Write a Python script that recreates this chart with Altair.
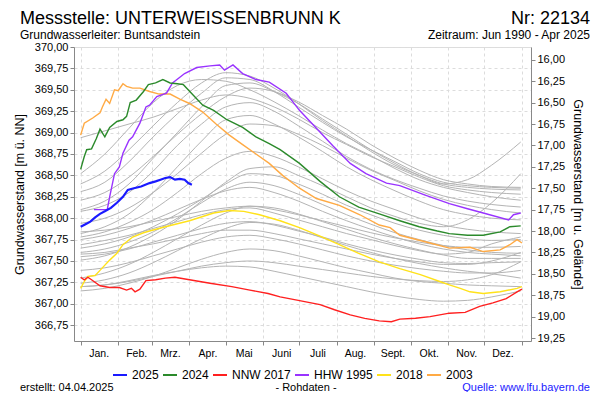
import altair as alt
import pandas as pd

# ---------------- data ----------------
GROUND = 385.85          # ground level (m ü. NN) linking both y axes
Y_DOMAIN = [366.565, 370.0]
X_DOMAIN = [-5.5, 372.5]

month_names = ['Jan.', 'Feb.', 'Mrz.', 'Apr.', 'Mai', 'Juni', 'Juli', 'Aug.', 'Sept.', 'Okt.', 'Nov.', 'Dez.', '']
month_starts = [0, 31, 59, 90, 120, 151, 181, 212, 243, 273, 304, 334, 365]
left_ticks = [366.75 + 0.25 * i for i in range(14)]
right_ticks = [16.0 + 0.25 * i for i in range(14)]

series_order = ['2025', '2024', 'NNW 2017', 'HHW 1995', '2018', '2003']
series_colors = ['#1a1aff', '#2b8a2b', '#ff2020', '#9933ff', '#ffe21a', '#ffaa44']

# coloured years: day of year / level (m ü. NN)
d2025 = [0, 4, 8, 12, 16, 20, 25, 30, 35, 39, 44, 50, 57, 62, 66, 70, 74, 78, 82, 86, 89, 92]
v2025 = [367.90, 367.93, 367.96, 368.01, 368.05, 368.08, 368.12, 368.18, 368.25, 368.33, 368.35, 368.37,
         368.41, 368.43, 368.45, 368.47, 368.48, 368.45, 368.46, 368.45, 368.41, 368.39]

d2024 = [0, 3, 5, 9, 13, 16, 20, 24, 30, 35, 38, 41, 46, 52, 56, 62, 68, 74, 80, 85, 93, 101, 110, 121,
         134, 145, 156, 165, 181, 198, 214, 230, 247, 264, 280, 295, 305, 320, 333, 347, 355, 364]
v2024 = [368.57, 368.72, 368.80, 368.81, 368.93, 369.04, 368.95, 369.06, 369.13, 369.15, 369.19, 369.35,
         369.38, 369.48, 369.56, 369.58, 369.62, 369.58, 369.57, 369.56, 369.44, 369.32, 369.26, 369.15,
         369.06, 368.95, 368.87, 368.80, 368.64, 368.43, 368.25, 368.13, 368.05, 367.97, 367.90, 367.85,
         367.82, 367.80, 367.80, 367.84, 367.90, 367.91]

d2017 = [0, 3, 6, 9, 16, 24, 32, 38, 42, 45, 49, 54, 62, 70, 78, 90, 107, 125, 140, 155, 165, 180, 198,
         210, 223, 235, 247, 257, 264, 277, 289, 305, 318, 330, 341, 352, 361, 365]
v2017 = [367.31, 367.28, 367.31, 367.28, 367.21, 367.19, 367.19, 367.16, 367.18, 367.14, 367.17, 367.27,
         367.28, 367.30, 367.31, 367.28, 367.24, 367.20, 367.16, 367.12, 367.08, 367.04, 366.99, 366.93,
         366.87, 366.83, 366.80, 366.79, 366.82, 366.83, 366.85, 366.89, 366.90, 366.97, 367.01, 367.06,
         367.14, 367.17]

d1995 = [11, 16, 22, 24, 28, 32, 35, 40, 43, 49, 54, 57, 63, 71, 76, 86, 96, 107, 115, 119, 126, 134,
         145, 156, 170, 181, 195, 209, 223, 236, 253, 264, 285, 305, 320, 333, 354, 358, 364]
v1995 = [368.10, 368.10, 368.10, 368.25, 368.52, 368.60, 368.76, 368.91, 368.95, 369.11, 369.30, 369.32,
         369.42, 369.46, 369.58, 369.69, 369.76, 369.78, 369.79, 369.73, 369.79, 369.69, 369.62, 369.59,
         369.46, 369.26, 369.05, 368.84, 368.64, 368.52, 368.41, 368.38, 368.27, 368.17, 368.11, 368.06,
         367.98, 368.04, 368.06]

d2018 = [0, 3, 6, 12, 16, 24, 30, 35, 43, 52, 57, 70, 90, 110, 123, 135, 148, 165, 181, 198, 214, 230,
         247, 264, 281, 297, 305, 314, 322, 333, 347, 361, 365]
v2018 = [367.18, 367.26, 367.32, 367.33, 367.39, 367.51, 367.59, 367.69, 367.78, 367.83, 367.85, 367.90,
         367.97, 368.06, 368.09, 368.08, 368.04, 367.97, 367.89, 367.79, 367.69, 367.59, 367.49, 367.41,
         367.34, 367.26, 367.22, 367.18, 367.14, 367.12, 367.14, 367.18, 367.20]

d2003 = [0, 3, 10, 16, 18, 21, 24, 28, 31, 35, 38, 43, 49, 57, 65, 74, 82, 90, 101, 112, 123, 134, 145,
         156, 167, 181, 195, 214, 231, 247, 256, 264, 289, 305, 322, 333, 347, 355, 361, 365]
v2003 = [368.97, 369.11, 369.17, 369.23, 369.30, 369.39, 369.34, 369.50, 369.49, 369.57, 369.54, 369.52,
         369.52, 369.48, 369.45, 369.45, 369.39, 369.34, 369.24, 369.10, 368.97, 368.86, 368.75, 368.64,
         368.50, 368.35, 368.23, 368.15, 368.04, 367.92, 367.89, 367.80, 367.71, 367.65, 367.66, 367.61,
         367.63, 367.69, 367.75, 367.71]

# other years (grey), sampled every ~20 days
gray_days = [0, 20, 40, 60, 80, 100, 120, 140, 160, 180, 200, 220, 240, 260, 280, 300, 320, 340, 364]
g01 = [368.94, 369.02, 369.10, 369.18, 369.28, 369.38, 369.44, 369.40, 369.30, 369.16, 369.00, 368.86, 368.72, 368.60, 368.48, 368.38, 368.33, 368.30, 368.28]
g02 = [368.31, 368.42, 368.66, 368.95, 369.22, 369.46, 369.64, 369.62, 369.48, 369.30, 369.12, 368.95, 368.80, 368.66, 368.52, 368.42, 368.38, 368.36, 368.35]
g03 = [368.10, 368.20, 368.40, 368.70, 369.00, 369.30, 369.55, 369.58, 369.48, 369.34, 369.16, 368.98, 368.80, 368.64, 368.50, 368.40, 368.45, 368.62, 368.89]
g04 = [368.08, 368.15, 368.30, 368.55, 368.85, 369.10, 369.30, 369.35, 369.25, 369.08, 368.90, 368.72, 368.57, 368.45, 368.35, 368.26, 368.20, 368.16, 368.13]
g05 = [367.82, 367.90, 368.05, 368.30, 368.60, 368.90, 369.15, 369.20, 369.10, 368.95, 368.78, 368.60, 368.45, 368.32, 368.20, 368.10, 368.04, 368.00, 367.98]
g06 = [367.78, 367.84, 367.95, 368.10, 368.30, 368.52, 368.70, 368.78, 368.72, 368.60, 368.46, 368.32, 368.20, 368.10, 368.00, 367.92, 367.87, 367.84, 367.82]
g07 = [367.75, 367.80, 367.88, 367.98, 368.10, 368.22, 368.32, 368.36, 368.30, 368.20, 368.08, 367.97, 367.87, 367.78, 367.70, 367.64, 367.60, 367.58, 367.56]
g08 = [367.69, 367.74, 367.80, 367.88, 367.96, 368.04, 368.10, 368.12, 368.06, 367.98, 367.90, 367.82, 367.75, 367.68, 367.62, 367.58, 367.60, 367.70, 367.78]
g09 = [367.65, 367.70, 367.78, 367.90, 368.05, 368.22, 368.40, 368.52, 368.50, 368.40, 368.28, 368.15, 368.04, 367.94, 367.86, 367.80, 367.76, 367.74, 367.75]
g10 = [367.55, 367.58, 367.64, 367.72, 367.80, 367.88, 367.94, 367.96, 367.92, 367.85, 367.78, 367.70, 367.63, 367.57, 367.52, 367.48, 367.47, 367.48, 367.49]
g11 = [367.51, 367.56, 367.66, 367.80, 367.98, 368.20, 368.42, 368.58, 368.60, 368.50, 368.38, 368.25, 368.12, 368.02, 367.94, 367.90, 367.98, 368.18, 368.52]
g12 = [367.39, 367.42, 367.48, 367.56, 367.64, 367.72, 367.78, 367.80, 367.76, 367.70, 367.63, 367.56, 367.50, 367.45, 367.41, 367.38, 367.36, 367.36, 367.39]
g13 = [367.24, 367.28, 367.36, 367.48, 367.62, 367.76, 367.88, 367.95, 367.93, 367.86, 367.77, 367.68, 367.60, 367.53, 367.47, 367.42, 367.38, 367.35, 367.30]
g14 = [367.15, 367.18, 367.24, 367.32, 367.42, 367.52, 367.60, 367.64, 367.62, 367.56, 367.49, 367.42, 367.36, 367.30, 367.26, 367.24, 367.22, 367.21, 367.20]
g15 = [368.52, 368.75, 369.05, 369.35, 369.55, 369.62, 369.60, 369.50, 369.36, 369.20, 369.03, 368.87, 368.73, 368.58, 368.45, 368.36, 368.30, 368.25, 368.21]
g16 = [367.94, 368.00, 368.12, 368.30, 368.52, 368.76, 368.98, 369.10, 369.08, 368.98, 368.85, 368.70, 368.56, 368.44, 368.32, 368.22, 368.15, 368.10, 368.06]
g17 = [367.84, 367.86, 367.90, 367.96, 368.02, 368.08, 368.12, 368.14, 368.10, 368.04, 367.97, 367.90, 367.83, 367.77, 367.72, 367.68, 367.66, 367.66, 367.67]
g18 = [367.60, 367.64, 367.72, 367.84, 368.00, 368.18, 368.34, 368.42, 368.38, 368.28, 368.16, 368.04, 367.93, 367.83, 367.75, 367.68, 367.63, 367.60, 367.59]
g19 = [367.30, 367.36, 367.46, 367.60, 367.76, 367.92, 368.06, 368.14, 368.12, 368.05, 367.96, 367.87, 367.78, 367.70, 367.63, 367.57, 367.53, 367.53, 367.53]
g20 = [367.20, 367.22, 367.26, 367.32, 367.38, 367.44, 367.48, 367.50, 367.48, 367.44, 367.40, 367.36, 367.32, 367.29, 367.27, 367.26, 367.28, 367.34, 367.49]
g21 = [368.21, 368.30, 368.48, 368.72, 368.98, 369.22, 369.42, 369.52, 369.48, 369.36, 369.20, 369.04, 368.86, 368.70, 368.56, 368.45, 368.40, 368.37, 368.36]
g22 = [368.40, 368.55, 368.80, 369.08, 369.35, 369.58, 369.70, 369.66, 369.52, 369.34, 369.14, 368.96, 368.78, 368.62, 368.50, 368.40, 368.36, 368.34, 368.33]
g23 = [367.20, 367.22, 367.27, 367.33, 367.38, 367.42, 367.44, 367.43, 367.38, 367.32, 367.26, 367.20, 367.14, 367.09, 367.05, 367.03, 367.04, 367.08, 367.15]
g24 = [367.58, 367.60, 367.65, 367.70, 367.76, 367.82, 367.86, 367.86, 367.82, 367.76, 367.70, 367.64, 367.58, 367.53, 367.49, 367.46, 367.46, 367.50, 367.60]

# ---------------- tables ----------------
gray_sets = [g01, g02, g03, g04, g05, g06, g07, g08, g09, g10, g11, g12,
             g13, g14, g15, g16, g17, g18, g19, g20, g21, g22, g23, g24]
gray_rows = []
for i, vals in enumerate(gray_sets):
    for d, v in zip(gray_days, vals):
        gray_rows.append({'line': 'g%02d' % i, 'day': d, 'level': v})
gray_df = pd.DataFrame(gray_rows)

col_rows = []
for name, ds, vs in [('2003', d2003, v2003), ('2018', d2018, v2018), ('HHW 1995', d1995, v1995),
                     ('NNW 2017', d2017, v2017), ('2024', d2024, v2024)]:
    for d, v in zip(ds, vs):
        col_rows.append({'series': name, 'day': d, 'level': v})
col_df = pd.DataFrame(col_rows)
blue_df = pd.DataFrame({'series': '2025', 'day': d2025, 'level': v2025})

depth_df = pd.DataFrame({'depth': [GROUND - Y_DOMAIN[1], GROUND - Y_DOMAIN[0]]})

# ---------------- chart ----------------
FONT = 'Liberation Sans'
num_expr = "replace(format(datum.value, '.2f'), '.', ',')"
month_expr = ("%s[indexof(%s, datum.value)]" % (str(month_names), str(month_starts)))

x_enc = alt.X('day:Q', scale=alt.Scale(domain=X_DOMAIN, nice=False, zero=False),
              axis=alt.Axis(values=month_starts, labelExpr=month_expr, title=None,
                            labelOffset=18, labelFlush=False, labelOverlap=False,
                            labelFontSize=10.5, labelPadding=3, tickSize=4,
                            grid=True, gridDash=[3, 3], gridColor='#dcdcdc',
                            domainColor='#888', tickColor='#888'))
y_scale = alt.Scale(domain=Y_DOMAIN, nice=False, zero=False)
y_enc = alt.Y('level:Q', scale=y_scale,
              axis=alt.Axis(values=left_ticks, labelExpr=num_expr,
                            title='Grundwasserstand [m ü. NN]', titleFontSize=12.5,
                            titleFontWeight='normal', titlePadding=8, labelFontSize=11,
                            tickSize=4, grid=True, gridDash=[3, 3], gridColor='#dcdcdc',
                            domainColor='#888', tickColor='#888'))

color_enc = alt.Color('series:N', scale=alt.Scale(domain=series_order, range=series_colors),
                      legend=alt.Legend(title=None, orient='none', direction='horizontal',
                                        legendX=38, legendY=320, symbolType='stroke',
                                        symbolSize=196, symbolStrokeWidth=2, labelFontSize=12,
                                        labelFont=FONT, columnPadding=0, labelOffset=4,
                                        gridAlign='none', padding=0))

gray = alt.Chart(gray_df).mark_line(color='#b4b4b4', strokeWidth=1, interpolate='monotone').encode(
    x=x_enc, y=y_enc, detail='line:N')
colored = alt.Chart(col_df).mark_line(strokeWidth=1.4).encode(
    x=x_enc, y=y_enc, color=color_enc, detail='series:N')
blue = alt.Chart(blue_df).mark_line(strokeWidth=2.2).encode(
    x=x_enc, y=y_enc, color=color_enc)


def label(text, x, y, size=12, align='left', color='black', baseline='alphabetic'):
    return alt.Chart(pd.DataFrame({'t': [text]})).mark_text(
        align=align, baseline=baseline, fontSize=size, font=FONT, color=color).encode(
        text='t:N', x=alt.value(x), y=alt.value(y))


texts = [
    label('Messstelle: UNTERWEISSENBRUNN K', -54, -23.5, size=18),
    label('Nr: 22134', 516, -23.5, size=18, align='right'),
    label('Grundwasserleiter: Buntsandstein', -54, -8.5, size=12),
    label('Zeitraum: Jun 1990 - Apr 2025', 516, -8.5, size=12, align='right'),
    label('erstellt:  04.04.2025', -54, 344, size=11),
    label('- Rohdaten -', 232, 344, size=11, align='center'),
    label('Quelle: www.lfu.bayern.de', 516, 344, size=11, align='right', color='#1a1aff'),
]

main = alt.layer(gray, colored, blue, *texts)

depth = alt.Chart(depth_df).mark_point(opacity=0).encode(
    y=alt.Y('depth:Q', scale=alt.Scale(domain=[GROUND - Y_DOMAIN[1], GROUND - Y_DOMAIN[0]],
                                       reverse=True, nice=False, zero=False),
            axis=alt.Axis(orient='right', values=right_ticks, labelExpr=num_expr,
                          title='Grundwasserstand [m u. Gelände]', titleFontSize=12.5,
                          titleFontWeight='normal', titlePadding=6, labelFontSize=11,
                          tickSize=4, grid=False, domainColor='#888', tickColor='#888')))

chart = alt.layer(main, depth).resolve_scale(y='independent').properties(
    width=457, height=294,
    autosize=alt.AutoSizeParams(type='none'),
    padding={'left': 66, 'top': 39, 'right': 61, 'bottom': 51},
).configure_view(stroke='#999', strokeWidth=1).configure_axis(
    labelFont=FONT, titleFont=FONT, labelColor='black', titleColor='black'
).configure(background='white')

chart.save("out.html", embed_options={"renderer": "svg", "actions": False})
